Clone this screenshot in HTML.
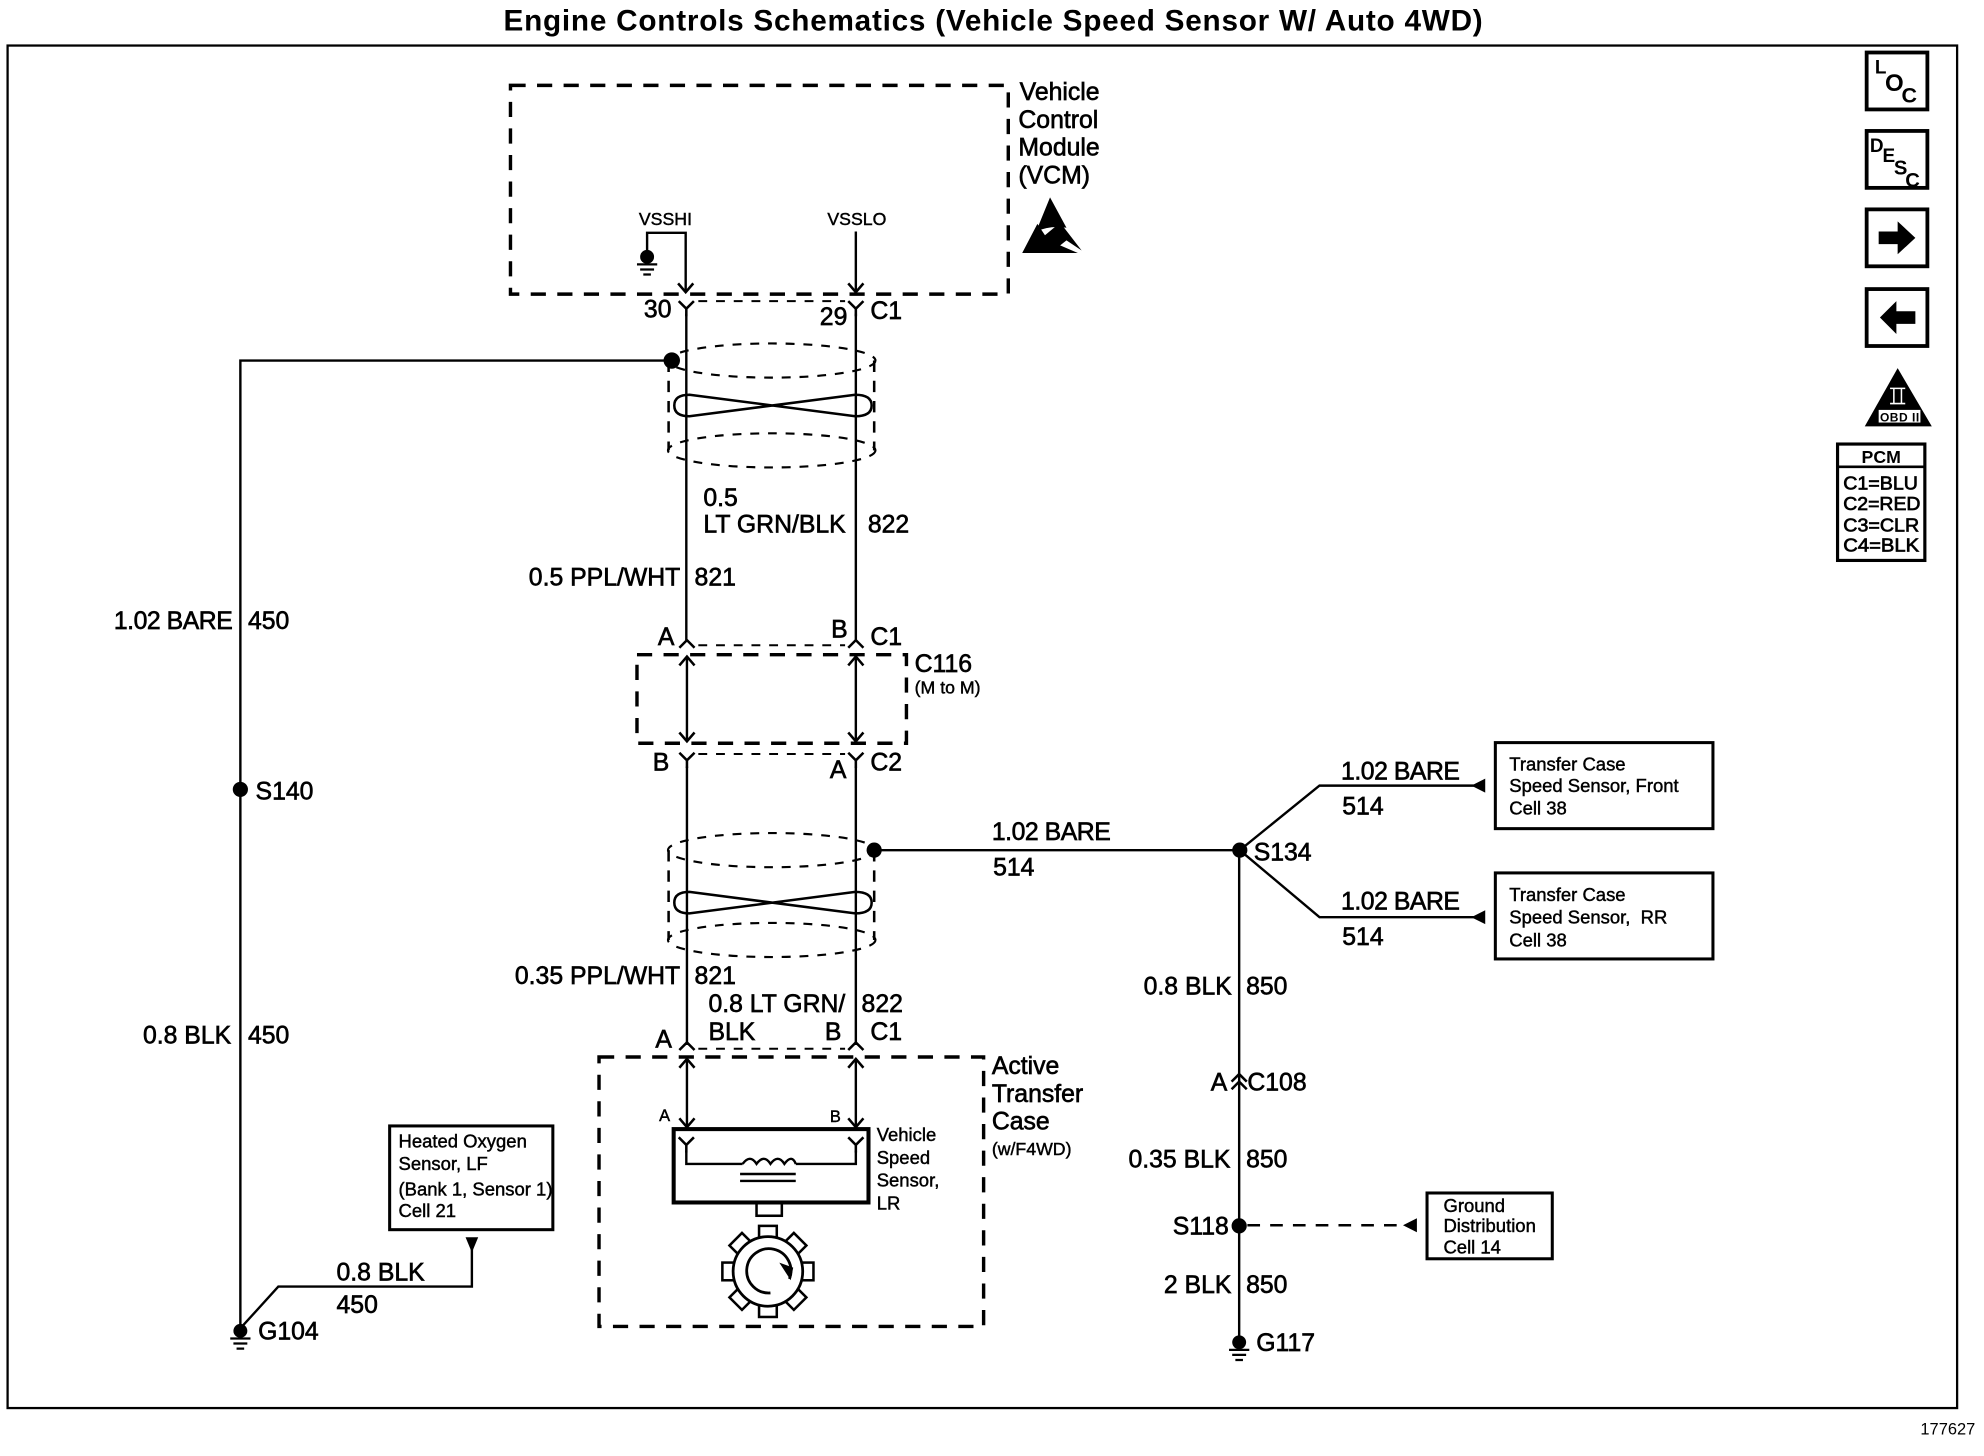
<!DOCTYPE html>
<html><head><meta charset="utf-8"><style>
html,body{margin:0;padding:0;background:#fff;width:1984px;height:1456px;overflow:hidden}
svg{display:block}
text{font-family:"Liberation Sans",sans-serif;fill:#000;stroke:#000;stroke-width:.5;font-size:19.6px}
.s{font-size:14.6px;stroke-width:.35}
.t{font-size:14px;stroke-width:.35}
.b{font-weight:bold;stroke:none}
.w{fill:none;stroke:#000;stroke-width:1.9}
.d{fill:none;stroke:#000;stroke-width:2.7;stroke-dasharray:12 9}
.n{fill:none;stroke:#000;stroke-width:1.6;stroke-dasharray:7 7}
</style></head><body>
<svg xmlns="http://www.w3.org/2000/svg" width="1984" height="1456" viewBox="0 0 1984 1456">
<defs>
<path id="y" d="M-6 0L0 6L6 0M0 6V12" fill="none" stroke="#000" stroke-width="2"/>
<path id="iy" d="M-6 0L0 -6L6 0" fill="none" stroke="#000" stroke-width="2"/>
<path id="ad" d="M-6 -7L0 0L6 -7" fill="none" stroke="#000" stroke-width="2"/>
<path id="au" d="M-6 7L0 0L6 7" fill="none" stroke="#000" stroke-width="2"/>
<g id="gnd"><circle r="5.5" cy="0" fill="#000"/><path d="M-8 6H8M-5.5 10H5.5M-3 14H3" stroke="#000" stroke-width="1.8"/></g>
<g id="shield" fill="none" stroke="#000">
<ellipse cx="610" cy="14" rx="82" ry="13.5" stroke-width="1.7" stroke-dasharray="7 7"/>
<ellipse cx="610" cy="85" rx="82" ry="13.5" stroke-width="1.7" stroke-dasharray="7 7"/>
<path d="M528.500 14V85M691 14V85" stroke-width="2" stroke-dasharray="9 7"/>
</g>
<path id="twist" d="M545 0L676 17Q689 17 689 8.500Q689 0 676 0L545 17Q533 17 533 8.500Q533 0 545 0Z" fill="none" stroke="#000" stroke-width="2"/>
<g id="tooth"><rect x="-7" y="-36" width="14" height="11" fill="#fff" stroke="#000" stroke-width="2"/></g>
</defs>
<rect width="1984" height="1456" fill="#fff"/>
<g transform="scale(1.2651)">
<text x="398" y="24" class="b" style="font-size:23.500px" textLength="774" lengthAdjust="spacing">Engine Controls Schematics (Vehicle Speed Sensor W/ Auto 4WD)</text>
<rect x="6" y="36" width="1541" height="1077" fill="none" stroke="#000" stroke-width="1.800"/>

<!-- VCM -->
<rect x="403.500" y="67.500" width="393.500" height="165" class="d"/>
<text x="806" y="79">Vehicle</text><text x="805" y="101">Control</text><text x="805" y="123">Module</text><text x="805" y="145">(VCM)</text>
<path d="M830 156L843 180Q830 178 819 183Z" fill="#000"/>
<path d="M808 200L820 177L826 186L838 176L855 198L843 190L838 194L852 200Z" fill="#000"/>
<text x="505" y="178" class="s" style="font-size:14px">VSSHI</text><text x="654" y="178" class="s" style="font-size:14px">VSSLO</text>
<path d="M511.500 199V184H542V230M676.500 183V230" class="w"/>
<use href="#gnd" x="511.500" y="203"/>
<use href="#ad" x="542" y="231"/><use href="#ad" x="676.500" y="231"/>
<path d="M552 238H668" class="n"/>
<use href="#y" x="542.500" y="238"/><use href="#y" x="676.500" y="238"/>
<text x="509" y="251">30</text><text x="648" y="257">29</text><text x="688" y="252">C1</text>

<!-- wires -->
<path d="M542.500 248V506M676.500 248V506" class="w"/>
<use href="#shield" y="271"/>
<use href="#twist" y="312"/>
<path d="M531 285H190V1050" class="w"/>
<circle cx="531" cy="285" r="6.500" fill="#000"/>
<circle cx="190" cy="624" r="6" fill="#000"/>
<use href="#gnd" x="190" y="1052"/>
<text x="556" y="400">0.5</text><text x="556" y="421">LT GRN/BLK</text><text x="686" y="421">822</text>
<text x="418" y="463">0.5 PPL/WHT</text><text x="549" y="463">821</text>
<text x="90" y="497" textLength="94">1.02 BARE</text><text x="196" y="497">450</text>
<text x="202" y="632">S140</text>
<text x="113" y="825">0.8 BLK</text><text x="196" y="825">450</text>
<text x="204" y="1059">G104</text>

<!-- C116 -->
<text x="520" y="510">A</text><text x="657" y="504">B</text><text x="688" y="510">C1</text>
<use href="#iy" x="543" y="512"/><use href="#iy" x="676.500" y="512"/>
<path d="M552 510H668" class="n"/>
<rect x="503.500" y="517.500" width="213" height="70" class="d"/>
<path d="M543 519V586M676.500 519V586" class="w"/>
<use href="#au" x="543" y="519"/><use href="#au" x="676.500" y="519"/>
<use href="#ad" x="543" y="586"/><use href="#ad" x="676.500" y="586"/>
<text x="723" y="531">C116</text><text x="723" y="548" class="t">(M to M)</text>
<path d="M552 596H668" class="n"/>
<use href="#y" x="543" y="595"/><use href="#y" x="676.500" y="595"/>
<text x="516" y="609">B</text><text x="656" y="615">A</text><text x="688" y="609">C2</text>

<path d="M543 606V826M676.500 606V826" class="w"/>
<use href="#shield" y="658"/>
<use href="#twist" y="705"/>
<circle cx="691" cy="672" r="6" fill="#000"/>
<path d="M691 672H980" class="w"/>
<text x="784" y="664" textLength="94">1.02 BARE</text><text x="785" y="692">514</text>

<!-- S134 -->
<circle cx="980" cy="672" r="6" fill="#000"/>
<text x="991" y="680">S134</text>
<path d="M980 672L1043 621H1165M980 672L1043 725H1165" class="w"/>
<path d="M1163 621L1174 615.500V626.500ZM1163 725L1174 719.500V730.500Z" fill="#000"/>
<text x="1060" y="616" textLength="94">1.02 BARE</text><text x="1061" y="644">514</text>
<text x="1060" y="719" textLength="94">1.02 BARE</text><text x="1061" y="747">514</text>
<rect x="1182" y="587" width="172" height="68" fill="none" stroke="#000" stroke-width="2.400"/>
<rect x="1182" y="690" width="172" height="68" fill="none" stroke="#000" stroke-width="2.400"/>
<text x="1193" y="609" class="s">Transfer Case</text><text x="1193" y="626" class="s">Speed Sensor, Front</text><text x="1193" y="644" class="s">Cell 38</text>
<text x="1193" y="712" class="s">Transfer Case</text><text x="1193" y="730" class="s" xml:space="preserve">Speed Sensor,  RR</text><text x="1193" y="748" class="s">Cell 38</text>

<!-- right trunk -->
<path d="M979.500 672V1060" class="w"/>
<text x="904" y="786">0.8 BLK</text><text x="985" y="786">850</text>
<text x="957" y="862">A</text><text x="986" y="862">C108</text>
<use href="#iy" x="979.500" y="855"/><use href="#iy" x="979.500" y="861"/>
<text x="892" y="923">0.35 BLK</text><text x="985" y="923">850</text>
<circle cx="979.500" cy="969" r="6" fill="#000"/>
<text x="927" y="976">S118</text>
<path d="M986 968.500H1110" fill="none" stroke="#000" stroke-width="2" stroke-dasharray="10 8"/>
<path d="M1109 968.500L1120 963V974Z" fill="#000"/>
<rect x="1128" y="943" width="99" height="52" fill="none" stroke="#000" stroke-width="2.400"/>
<text x="1141" y="958" class="s">Ground</text><text x="1141" y="974" class="s">Distribution</text><text x="1141" y="991" class="s">Cell 14</text>
<text x="920" y="1022">2 BLK</text><text x="985" y="1022">850</text>
<use href="#gnd" x="979.500" y="1061"/>
<text x="993" y="1068">G117</text>

<!-- bottom -->
<text x="407" y="778">0.35 PPL/WHT</text><text x="549" y="778">821</text>
<text x="560" y="800">0.8 LT GRN/</text><text x="681" y="800">822</text>
<text x="560" y="822">BLK</text><text x="652" y="822">B</text><text x="688" y="822">C1</text>
<text x="518" y="828">A</text>
<use href="#iy" x="543" y="830"/><use href="#iy" x="676.500" y="830"/>
<path d="M552 829H668" class="n"/>
<rect x="473.500" y="835.500" width="304" height="213" class="d"/>
<path d="M543 837V890M676.500 837V890" class="w"/>
<use href="#au" x="543" y="837"/><use href="#au" x="676.500" y="837"/>
<use href="#ad" x="543" y="891"/><use href="#ad" x="676.500" y="891"/>
<text x="521" y="886" class="t" style="font-size:13px">A</text><text x="656" y="887" class="t" style="font-size:13px">B</text>
<rect x="532.500" y="892.500" width="154" height="58" fill="none" stroke="#000" stroke-width="3.200"/>
<use href="#y" x="542.500" y="899"/><use href="#y" x="676.500" y="899"/>
<path d="M542.500 910V920H587M629 920H676.500V910" class="w"/>
<path d="M587 920Q593 912 598 920Q604 912 609 920Q615 912 620 920Q626 912 629 920" class="w"/>
<path d="M585 928H629M585 933.500H629" class="w"/>
<rect x="598" y="951" width="20" height="10" fill="none" stroke="#000" stroke-width="2"/>
<g transform="translate(607 1005)">
<use href="#tooth"/><use href="#tooth" transform="rotate(45)"/><use href="#tooth" transform="rotate(90)"/><use href="#tooth" transform="rotate(135)"/><use href="#tooth" transform="rotate(180)"/><use href="#tooth" transform="rotate(225)"/><use href="#tooth" transform="rotate(270)"/><use href="#tooth" transform="rotate(315)"/>
<circle r="27.500" fill="#fff" stroke="#000" stroke-width="2.200"/>
<path d="M17 6A17.500 17.500 0 1 0 2 17" fill="none" stroke="#000" stroke-width="2.200"/>
<path d="M9 -7L20 -3L18 7Z" fill="#000"/>
</g>
<text x="693" y="902" class="s">Vehicle</text><text x="693" y="920" class="s">Speed</text><text x="693" y="938" class="s">Sensor,</text><text x="693" y="956" class="s">LR</text>
<text x="784" y="849">Active</text><text x="784" y="871">Transfer</text><text x="784" y="893">Case</text><text x="784" y="913" class="t">(w/F4WD)</text>

<!-- heated -->
<rect x="308" y="890" width="129" height="82" fill="none" stroke="#000" stroke-width="2.400"/>
<text x="315" y="907" class="s">Heated Oxygen</text><text x="315" y="925" class="s">Sensor, LF</text><text x="315" y="945" class="s">(Bank 1, Sensor 1)</text><text x="315" y="962" class="s">Cell 21</text>
<path d="M368 978H378L373 990Z" fill="#000"/>
<path d="M373 985V1017H220L190 1050" class="w"/>
<text x="266" y="1012">0.8 BLK</text><text x="266" y="1038">450</text>

<!-- icons -->
<g fill="none" stroke="#000" stroke-width="3">
<rect x="1475.500" y="41.500" width="48" height="45"/>
<rect x="1475.500" y="103.500" width="48" height="45"/>
<rect x="1475.500" y="165.500" width="48" height="45"/>
<rect x="1475.500" y="228.500" width="48" height="45"/>
<rect x="1452.500" y="351" width="69" height="92" stroke-width="2.500"/>
<path d="M1452.500 369H1521.500" stroke-width="2"/>
</g>
<text x="1482" y="58" class="b" style="font-size:15px">L</text><text x="1490" y="72" class="b" style="font-size:19px">O</text><text x="1503" y="81" class="b" style="font-size:17px">C</text>
<text x="1478" y="120" class="b" style="font-size:15px">D</text><text x="1488" y="128" class="b" style="font-size:15px">E</text><text x="1497" y="138" class="b" style="font-size:16px">S</text><text x="1506" y="148" class="b" style="font-size:16px">C</text>
<path d="M1485 183H1500V175L1514 188L1500 201V193H1485Z" fill="#000"/>
<path d="M1514 246H1499V238L1486 251L1499 264V256H1514Z" fill="#000"/>
<path d="M1500 291L1527 337H1474Z" fill="#000"/>
<rect x="1485" y="324" width="33" height="10" fill="#fff"/>
<text x="1486" y="333" class="b" style="font-size:9.500px" textLength="31">OBD II</text>
<path d="M1494 307H1506M1494 319H1506M1497 307V319M1503 307V319" stroke="#fff" stroke-width="1.200"/>
<text x="1487" y="366" text-anchor="middle" class="b" style="font-size:14px">PCM</text>
<text x="1457" y="387" style="font-size:14.600px;stroke-width:.55" textLength="59" lengthAdjust="spacingAndGlyphs">C1=BLU</text>
<text x="1457" y="403" style="font-size:14.600px;stroke-width:.55" textLength="61" lengthAdjust="spacingAndGlyphs">C2=RED</text>
<text x="1457" y="420" style="font-size:14.600px;stroke-width:.55" textLength="60" lengthAdjust="spacingAndGlyphs">C3=CLR</text>
<text x="1457" y="436" style="font-size:14.600px;stroke-width:.55" textLength="60" lengthAdjust="spacingAndGlyphs">C4=BLK</text>
<text x="1518" y="1134" style="font-size:13px;stroke:none">177627</text>
</g>
</svg>
</body></html>
